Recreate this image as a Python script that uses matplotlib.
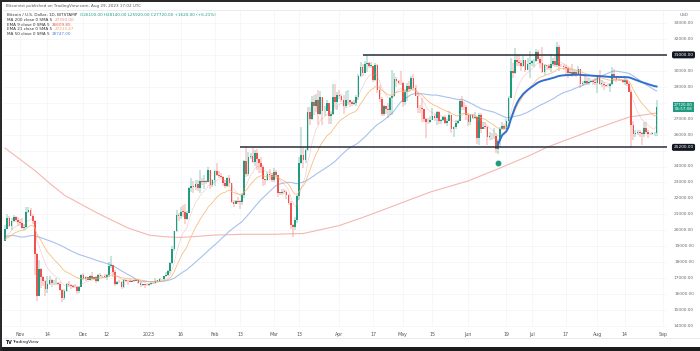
import matplotlib
matplotlib.use('Agg')
import matplotlib.pyplot as plt
import matplotlib.transforms as mtransforms
from matplotlib.patches import Rectangle
import numpy as np
import pandas as pd

# BTC/USD daily, prices in thousands of USD
start = '2022-10-25'
first_open = 19.33

# closes before the window (Sep 6 - Oct 24 2022), only used to warm up the averages
prior_closes = [18.79, 19.29, 19.32, 21.36, 21.65, 21.83, 22.40, 20.17, 20.24, 19.70,
                19.80, 20.11, 19.42, 19.54, 18.88, 18.49, 19.40, 19.30, 18.93, 18.80,
                19.22, 19.08, 19.41, 19.59, 19.42,
                19.31, 19.05, 19.63, 20.34, 20.16, 19.96, 19.53, 19.42, 19.45, 19.13,
                19.06, 19.16, 19.38, 19.19, 19.07, 19.26, 19.55, 19.33, 19.13, 19.04,
                19.17, 19.20, 19.57, 19.33]

closes = [
    # Oct 25-31
    20.09, 20.77, 20.29, 20.60, 20.81, 20.63, 20.49,
    # Nov
    20.48, 20.16, 20.21, 21.15, 21.30, 20.91, 20.60, 18.54, 15.88, 17.59, 17.06, 16.81, 16.33, 16.62, 16.90,
    16.67, 16.69, 16.70, 16.64, 16.28, 15.78, 16.19, 16.61, 16.60, 16.52, 16.46, 16.44, 16.22, 16.44, 17.17,
    # Dec
    16.97, 17.09, 16.89, 17.11, 16.97, 17.09, 16.84, 17.22, 17.13, 17.13, 17.09, 17.21, 17.78, 17.81, 17.36, 16.63,
    16.78, 16.74, 16.44, 16.90, 16.83, 16.82, 16.78, 16.84, 16.83, 16.91, 16.70, 16.55, 16.63, 16.60, 16.54,
    # Jan
    16.61, 16.68, 16.67, 16.85, 16.83, 16.95, 16.94, 17.12, 17.18, 17.44, 17.94, 18.85, 19.93, 20.95, 20.87, 21.17,
    21.16, 20.68, 21.07, 22.67, 22.78, 22.70, 22.92, 22.63, 23.06, 23.01, 23.08, 23.03, 23.76, 22.84, 23.13,
    # Feb
    23.73, 23.49, 23.43, 23.33, 22.94, 22.76, 23.26, 22.96, 21.80, 21.63, 21.86, 21.79, 21.78, 22.20, 24.33, 23.53,
    24.57, 24.63, 24.28, 24.84, 24.44, 24.19, 23.95, 23.19, 23.16, 23.56, 23.49, 23.15,
    # Mar
    23.65, 23.48, 22.36, 22.35, 22.43, 22.41, 22.20, 21.71, 20.36, 20.19, 20.63, 22.16, 24.20, 24.75, 24.38, 25.06,
    27.42, 26.97, 28.04, 27.77, 28.18, 27.27, 28.35, 27.48, 27.49, 27.99, 27.14, 27.27, 28.35, 28.03, 28.48,
    # Apr
    28.45, 28.20, 27.79, 28.17, 28.18, 28.04, 27.92, 27.95, 28.33, 29.65, 30.24, 29.89, 30.40, 30.49, 30.32, 30.32,
    29.43, 30.38, 28.82, 28.25, 27.27, 27.82, 27.59, 27.52, 28.30, 28.42, 29.47, 29.34, 29.25, 29.23,
    # May
    28.07, 28.68, 29.03, 28.85, 29.53, 28.90, 28.45, 27.69, 27.65, 27.62, 26.99, 26.80, 26.78, 26.93, 27.17, 27.03,
    27.40, 26.83, 26.89, 27.10, 26.75, 26.85, 27.22, 26.33, 26.48, 26.72, 26.87, 28.08, 27.74, 27.70, 27.22,
    # Jun
    26.82, 27.25, 27.07, 27.12, 25.76, 27.24, 26.35, 26.50, 26.48, 25.85, 25.94, 25.90, 25.92, 25.12, 25.58, 26.34,
    26.51, 26.34, 26.85, 28.31, 30.00, 29.89, 30.69, 30.55, 30.47, 30.27, 30.69, 30.08, 30.45, 30.48,
    # Jul
    30.59, 30.62, 31.16, 30.77, 30.51, 29.90, 30.35, 30.29, 30.17, 30.41, 30.62, 30.39, 31.48, 30.32, 30.29, 30.25,
    30.15, 29.86, 29.91, 29.80, 29.91, 29.80, 30.09, 29.18, 29.23, 29.35, 29.22, 29.31, 29.36, 29.28, 29.23,
    # Aug 1-29
    29.70, 29.18, 29.18, 29.08, 29.05, 29.04, 29.18, 29.77, 29.58, 29.44, 29.40, 29.42, 29.30, 29.42, 29.17, 28.70,
    26.63, 26.05, 26.10, 26.19, 26.12, 26.05, 26.43, 26.17, 26.05, 26.01, 26.09, 26.10, 27.72,
]

highs = [
    20.34, 21.00, 20.87, 20.74, 20.99, 20.92, 20.83,
    20.70, 20.80, 20.40, 21.45, 21.47, 21.37, 21.05, 20.66, 18.60, 18.15, 17.65, 17.11, 16.90, 17.15, 17.13,
    16.96, 16.88, 16.98, 16.73, 16.76, 16.29, 16.29, 16.68, 16.79, 16.66, 16.59, 16.65, 16.49, 16.53, 17.25,
    17.32, 17.11, 17.10, 17.20, 17.38, 17.10, 17.14, 17.27, 17.30, 17.22, 17.26, 17.24, 18.00, 18.39, 17.85, 17.53,
    16.80, 16.86, 16.80, 16.97, 16.91, 16.86, 16.94, 16.86, 16.86, 16.93, 16.95, 16.78, 16.65, 16.64, 16.63,
    16.63, 16.76, 16.78, 16.99, 16.88, 16.98, 16.96, 17.16, 17.39, 17.48, 18.00, 19.04, 19.97, 21.26, 21.07, 21.44,
    21.61, 21.65, 21.18, 22.74, 23.28, 23.06, 23.13, 23.16, 23.79, 23.26, 23.49, 23.16, 23.94, 23.78, 23.22,
    23.81, 24.22, 23.71, 23.57, 23.43, 23.16, 23.36, 23.45, 22.99, 21.91, 21.90, 22.06, 21.89, 22.31, 24.38, 25.25,
    24.90, 24.87, 25.13, 25.02, 25.12, 24.47, 24.58, 24.11, 23.22, 23.67, 23.87, 23.59,
    23.89, 23.77, 23.48, 22.41, 22.62, 22.59, 22.55, 22.27, 21.82, 20.37, 20.84, 22.19, 24.58, 26.50, 25.25, 25.17,
    27.76, 27.72, 28.39, 28.50, 28.53, 28.80, 28.76, 28.38, 27.78, 28.19, 28.01, 27.49, 29.16, 29.18, 28.66,
    28.82, 28.52, 28.49, 28.73, 28.77, 28.17, 28.11, 28.18, 28.49, 29.79, 30.54, 30.44, 30.60, 31.00, 30.58, 30.55,
    30.33, 30.47, 30.41, 29.10, 28.35, 27.86, 27.82, 28.00, 28.37, 30.02, 29.88, 29.60, 29.42, 29.96,
    29.30, 28.86, 29.26, 29.38, 29.68, 29.83, 29.12, 28.63, 27.84, 28.30, 27.63, 27.05, 27.03, 27.18, 27.64, 27.27,
    27.45, 27.47, 26.99, 27.15, 27.26, 26.99, 27.47, 27.21, 26.55, 26.93, 26.91, 28.19, 28.43, 28.03, 27.83,
    27.33, 27.30, 27.32, 27.41, 27.13, 27.35, 27.36, 26.80, 26.79, 26.54, 26.19, 26.09, 26.43, 26.08, 25.75, 26.47,
    26.78, 26.68, 26.97, 28.39, 30.79, 30.49, 31.40, 31.04, 31.04, 30.66, 31.00, 30.70, 30.82, 31.26,
    30.65, 30.77, 31.38, 31.32, 30.88, 31.50, 30.45, 30.39, 30.43, 31.03, 30.80, 30.99, 31.81, 31.63, 30.40, 30.44,
    30.34, 30.24, 30.19, 30.40, 30.05, 29.99, 30.33, 30.10, 29.38, 29.68, 29.57, 29.53, 29.41, 29.45, 29.52,
    29.74, 30.05, 29.44, 29.31, 29.11, 29.15, 29.24, 30.24, 30.13, 29.70, 29.53, 29.47, 29.45, 29.68, 29.48, 29.24,
    28.78, 26.83, 26.26, 26.28, 26.27, 26.14, 26.81, 26.80, 26.29, 26.11, 26.17, 26.18, 28.14,
]

lows = [
    19.30, 20.06, 20.21, 20.00, 20.55, 20.51, 20.25,
    20.36, 20.07, 20.04, 20.16, 21.08, 20.88, 20.38, 17.17, 15.59, 15.85, 16.38, 16.53, 15.88, 16.10, 16.55,
    16.43, 16.55, 16.57, 16.55, 16.21, 15.48, 15.63, 16.15, 16.46, 16.33, 16.39, 16.40, 16.00, 16.10, 16.42,
    16.86, 16.79, 16.88, 16.89, 16.89, 16.91, 16.69, 16.74, 17.09, 17.09, 17.07, 16.87, 17.10, 17.66, 17.09, 16.53,
    16.58, 16.70, 16.35, 16.39, 16.76, 16.56, 16.76, 16.78, 16.73, 16.79, 16.62, 16.47, 16.50, 16.41, 16.48,
    16.50, 16.55, 16.61, 16.66, 16.75, 16.76, 16.91, 16.91, 17.10, 17.15, 17.32, 17.91, 18.72, 19.89, 20.60, 20.73,
    20.85, 20.41, 20.67, 21.06, 22.42, 22.33, 22.52, 22.49, 22.35, 22.84, 22.59, 22.92, 23.00, 22.56, 22.73,
    22.76, 23.38, 23.26, 23.29, 22.77, 22.64, 22.71, 22.70, 21.72, 21.45, 21.62, 21.63, 21.36, 21.56, 22.05, 23.36,
    23.38, 24.46, 24.24, 24.05, 23.81, 23.61, 23.62, 22.77, 22.87, 23.08, 23.13, 23.02,
    23.03, 23.21, 22.06, 22.20, 22.21, 22.29, 21.96, 21.61, 20.06, 19.57, 20.05, 20.45, 21.88, 24.18, 23.91, 24.23,
    25.00, 26.62, 26.93, 27.20, 27.41, 26.63, 27.20, 26.63, 27.18, 27.46, 26.65, 26.67, 27.26, 27.69, 27.53,
    28.25, 28.05, 27.27, 27.67, 27.83, 27.75, 27.79, 27.88, 27.80, 28.17, 29.61, 29.70, 29.89, 29.95, 30.20, 30.20,
    29.27, 29.38, 28.59, 28.05, 27.17, 27.15, 27.32, 27.01, 27.22, 27.25, 28.38, 29.00, 29.10, 29.14,
    27.71, 27.86, 28.13, 28.70, 28.77, 28.80, 28.41, 27.33, 27.36, 26.78, 26.78, 25.80, 26.69, 26.75, 26.91, 26.86,
    26.60, 26.68, 26.64, 26.83, 26.66, 26.53, 26.85, 26.13, 25.87, 26.33, 26.69, 26.86, 27.56, 27.57, 26.89,
    26.51, 26.60, 26.95, 26.96, 25.41, 25.36, 26.12, 26.35, 26.33, 25.37, 25.69, 25.64, 25.72, 24.83, 24.80, 25.20,
    26.28, 26.26, 26.28, 26.68, 28.27, 29.53, 29.81, 30.32, 30.30, 29.97, 30.23, 29.91, 30.03, 29.56,
    30.32, 30.24, 30.57, 30.62, 30.20, 29.86, 29.73, 30.05, 30.05, 29.94, 30.28, 30.26, 30.25, 29.96, 30.25, 30.07,
    29.68, 29.53, 29.77, 29.58, 29.73, 29.63, 29.71, 28.95, 29.05, 29.16, 29.09, 29.13, 29.27, 29.11, 29.10,
    28.59, 29.10, 28.96, 28.80, 28.97, 28.99, 28.70, 29.11, 29.38, 29.32, 29.33, 29.38, 29.26, 29.11, 29.06, 28.70,
    25.17, 25.64, 25.86, 25.97, 25.82, 25.36, 25.87, 26.01, 25.78, 25.97, 25.99, 25.92, 25.92,
]

# 200-day MA (needs history far before the window)
ma200_dates = ['2022-10-25', '2022-11-01', '2022-11-08', '2022-11-15', '2022-11-22', '2022-12-01',
               '2022-12-08', '2022-12-15', '2022-12-22', '2023-01-01', '2023-01-08', '2023-01-15',
               '2023-01-22', '2023-02-01', '2023-02-15', '2023-03-01', '2023-03-15', '2023-04-01',
               '2023-04-13', '2023-05-01', '2023-05-14', '2023-06-01', '2023-06-15', '2023-07-01',
               '2023-07-08', '2023-08-01', '2023-08-16', '2023-08-29']
ma200_values = [25.15, 24.45, 23.75, 22.95, 22.20, 21.55, 21.05, 20.60, 20.15, 19.70, 19.60, 19.55,
                19.60, 19.70, 19.75, 19.75, 19.80, 20.30, 20.85, 21.75, 22.40, 23.10, 23.85, 24.75,
                25.20, 26.40, 27.10, 27.35]

xtick_dates = ['2022-11-01', '2022-11-14', '2022-12-01', '2022-12-12', '2023-01-01', '2023-01-16',
               '2023-02-01', '2023-02-13', '2023-03-01', '2023-03-13', '2023-04-01', '2023-04-17',
               '2023-05-01', '2023-05-15', '2023-06-01', '2023-06-19', '2023-07-01', '2023-07-17',
               '2023-08-01', '2023-08-14', '2023-09-01']
xtick_labels = ['Nov', '14', 'Dec', '12', '2023', '16', 'Feb', '13', 'Mar', '13', 'Apr', '17',
                'May', '15', 'Jun', '19', 'Jul', '17', 'Aug', '14', 'Sep']

resistance = 31.0
resistance_from = '2023-04-12'
support = 25.2
support_from = '2023-02-13'
anchor_date = '2023-06-15'


def day(s):
    return (pd.Timestamp(s) - pd.Timestamp(start)).days


closes = np.array(closes)
highs = np.array(highs)
lows = np.array(lows)
opens = np.r_[first_open, closes[:-1]]
x = np.arange(len(closes))
n_prior = len(prior_closes)

full = pd.Series(np.r_[prior_closes, closes])
ma50 = full.rolling(50).mean().values[n_prior:]
ema21 = full.ewm(span=21, adjust=False).mean().values[n_prior:]
ema9 = full.ewm(span=9, adjust=False).mean().values[n_prior:]

a = day(anchor_date)
typical = (highs + lows + closes) / 3
vwap_x = x[a:]
vwap = np.cumsum(typical[a:]) / np.arange(1, len(vwap_x) + 1)

ma200_x = [day(d) for d in ma200_dates]

# ---- figure: 700x351 px, layout in pixels ----
W, H = 700, 351
fig = plt.figure(figsize=(7, 3.51), dpi=100)
fig.patch.set_facecolor('white')

pane_l, pane_r, pane_t, pane_b = 3, 667, 11, 327
ax = fig.add_axes([pane_l / W, 1 - pane_b / H, (pane_r - pane_l) / W, (pane_b - pane_t) / H])
ax.set_xlim(7 + (pane_l - 20) / 2.115, 7 + (pane_r - 20) / 2.115)
ax.set_ylim(30 - (pane_b - 70.8) / 15.95, 30 + (70.8 - pane_t) / 15.95)
for s in ax.spines.values():
    s.set_visible(False)

# faint grid
price_ticks = np.arange(14, 34)
xt = [day(d) for d in xtick_dates]
for v in price_ticks:
    ax.axhline(v, color='#f3f4f7', lw=0.5, zorder=0)
for v in xt:
    ax.axvline(v, color='#f3f4f7', lw=0.5, zorder=0)

# moving averages
ax.plot(ma200_x, ma200_values, color='#f5b7b1', lw=0.8, zorder=1)
ax.plot(x, ma50, color='#a9c1ec', lw=0.8, zorder=1)
ax.plot(x, ema21, color='#f7b267', lw=0.55, alpha=0.9, zorder=3)
ax.plot(x, ema9, color='#ec8a8a', lw=0.4, alpha=0.5, zorder=3)
ax.plot(vwap_x, vwap, color='#2f6fd0', lw=1.4, zorder=4)

# candles
up = closes >= opens
colors = np.where(up, '#1f9c7f', '#ef5350')
ax.vlines(x, np.minimum(lows, np.minimum(opens, closes)), np.maximum(highs, np.maximum(opens, closes)),
          colors=colors, lw=0.35, zorder=2)
body = np.maximum(np.abs(closes - opens), 0.03)
ax.bar(x, body, bottom=np.minimum(opens, closes), width=0.8, color=colors, lw=0, zorder=2)

# support / resistance
ax.hlines(resistance, day(resistance_from), ax.get_xlim()[1], color='#2a2e39', lw=1.1, zorder=5)
ax.hlines(support, day(support_from), ax.get_xlim()[1], color='#2a2e39', lw=1.1, zorder=5)

# anchor dot under the June low
ax.plot([a], [lows[a]], 'o', ms=3.2, color='#1f9c7f', transform=ax.transData +
        mtransforms.ScaledTranslation(0, -9 / 100, fig.dpi_scale_trans), zorder=6)

# time axis
ax.set_xticks(xt)
ax.set_xticklabels(xtick_labels)
ax.set_yticks([])
ax.tick_params(axis='x', length=0, pad=3.5, labelsize=3.4, labelcolor='#555555')

# price scale on the right (labels under the marker boxes are hidden, as on TradingView)
mix = mtransforms.blended_transform_factory(fig.transFigure, ax.transData)
for v in price_ticks:
    if abs(v - resistance) < 0.5 or abs(v - support) < 0.5 or abs(v - closes[-1]) < 0.45:
        continue
    ax.text(684 / W, v, f'{v * 1000:.2f}', transform=mix, ha='center', va='center',
            fontsize=3.1, color='#6a6d78', clip_on=False)
fig.text(684 / W, 1 - 15 / H, 'USD', ha='center', va='center', fontsize=3.1, color='#6a6d78')

for v in (resistance, support):
    ax.text(683.5 / W, v, f'{v * 1000:.2f}', transform=mix, ha='center', va='center',
            fontsize=3.1, color='white', clip_on=False,
            bbox=dict(boxstyle='round,pad=0.35,rounding_size=0.4', fc='#131722', ec='none'))
ax.text(683.5 / W, closes[-1], f'{closes[-1] * 1000:.2f}\n06:57:08', transform=mix,
        ha='center', va='center', fontsize=2.9, color='white', linespacing=1.05, clip_on=False,
        bbox=dict(boxstyle='square,pad=0.3', fc='#1f9c7f', ec='none'))

# header and legend
fig.text(6 / W, 1 - 6 / H, 'Bitcoinist published on TradingView.com, Aug 29, 2023 17:02 UTC',
         fontsize=3.0, color='#555555', va='center')
fig.add_artist(plt.Line2D([3 / W, 1], [1 - 10 / H] * 2, color='#e0e3eb', lw=0.5))

chg = closes[-1] - closes[-2]
ohlc = (f'O{opens[-1] * 1000:.2f} H{highs[-1] * 1000:.2f} L{lows[-1] * 1000:.2f} '
        f'C{closes[-1] * 1000:.2f} +{chg * 1000:.2f} (+{chg / closes[-2] * 100:.2f}%)')
legend = [
    ('Bitcoin / U.S. Dollar, 1D, BITSTAMP', ohlc, '#1f9c7f'),
    ('MA 200 close 0 SMA 5', f'{ma200_values[-1] * 1000:.2f}', '#f08a80'),
    ('EMA 9 close 0 SMA 5', f'{ema9[-1] * 1000:.2f}', '#e05555'),
    ('EMA 21 close 0 SMA 5', f'{ema21[-1] * 1000:.2f}', '#f5a04a'),
    ('MA 50 close 0 SMA 5', f'{ma50[-1] * 1000:.2f}', '#4a80dd'),
]
for i, (name, val, col) in enumerate(legend):
    yy = 1 - (15.5 + i * 4.6) / H
    t = fig.text(7 / W, yy, name + '  ', fontsize=3.0, color='#333333', va='center')
    fig.canvas.draw()
    bb = t.get_window_extent()
    fig.text(bb.x1 / W, yy, val, fontsize=3.0, color=col, va='center')

# footer
fig.add_artist(plt.Line2D([3 / W, 1], [1 - 338 / H] * 2, color='#e0e3eb', lw=0.5))
fig.text(5 / W, 1 - 342.5 / H, 'TV', fontsize=3.4, fontweight='bold', color='#131722', va='center')
fig.text(12 / W, 1 - 342.5 / H, 'TradingView', fontsize=3.2, color='#131722', va='center')

# dark screenshot border
fig.add_artist(Rectangle((0, 0), 1, 4 / H, transform=fig.transFigure, color='#1c1c1c', lw=0))
fig.add_artist(Rectangle((0, 0), 2 / W, 1, transform=fig.transFigure, color='#2a2a2a', lw=0))
fig.add_artist(Rectangle((0, 1 - 1.5 / H), 1, 1.5 / H, transform=fig.transFigure, color='#2a2a2a', lw=0))

fig.savefig('out.png', dpi=100)
